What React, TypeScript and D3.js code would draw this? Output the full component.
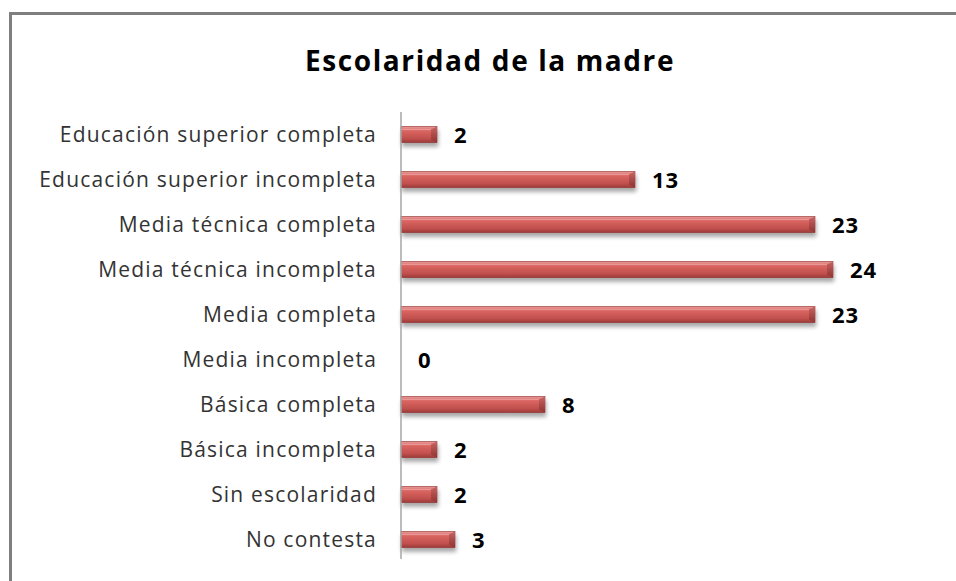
import React from "react";
import * as d3 from "d3";

const categories = [
  "Educación superior completa",
  "Educación superior incompleta",
  "Media técnica completa",
  "Media técnica incompleta",
  "Media completa",
  "Media incompleta",
  "Básica completa",
  "Básica incompleta",
  "Sin escolaridad",
  "No contesta",
];
const values = [2, 13, 23, 24, 23, 0, 8, 2, 2, 3];
const title = "Escolaridad de la madre";

const W = 956;
const H = 581;
const FONT = "'Open Sans', Lato, sans-serif";

export default function App() {
  const x = d3.scaleLinear().domain([0, 24]).range([401, 833]);
  const y = d3.scaleBand<string>().domain(categories).range([112, 562]).paddingInner(0.64).paddingOuter(0.32);
  const bh = y.bandwidth();
  return (
    <div style={{ position: "fixed", left: 0, top: 0 }}>
      <svg width={W} height={H} style={{ display: "block", background: "#fff" }}>
        <defs>
          <linearGradient id="barG" x1="0" y1="0" x2="0" y2="1">
            <stop offset="0" stopColor="#e89a98" />
            <stop offset="0.3" stopColor="#d9635f" />
            <stop offset="0.75" stopColor="#c0504d" />
            <stop offset="1" stopColor="#9c3a38" />
          </linearGradient>
          <linearGradient id="capG" x1="0" y1="0" x2="0" y2="1">
            <stop offset="0" stopColor="#c86462" />
            <stop offset="1" stopColor="#8f3432" />
          </linearGradient>
          <filter id="sh" x="-10%" y="-50%" width="130%" height="250%">
            <feGaussianBlur in="SourceAlpha" stdDeviation="2" />
            <feOffset dx="1" dy="4" result="b" />
            <feComponentTransfer>
              <feFuncA type="linear" slope="0.35" />
            </feComponentTransfer>
            <feMerge>
              <feMergeNode />
              <feMergeNode in="SourceGraphic" />
            </feMerge>
          </filter>
        </defs>
        <rect x={10.5} y={13.5} width={W} height={H} fill="#fff" stroke="#7f7f7f" strokeWidth={3} />
        <text x={490} y={71} textAnchor="middle" fontFamily={FONT} fontWeight={700} fontSize={28} letterSpacing={1.6} fill="#000">
          {title}
        </text>
        {categories.map((c, i) => {
          const yy = y(c)!;
          const x0 = x(0);
          const x1 = x(values[i]);
          const cy = yy + bh / 2;
          const bevel = Math.min(6, (x1 - x0) / 4);
          return (
            <g key={c}>
              {values[i] > 0 && (
                <g filter="url(#sh)">
                  <rect x={x0} y={yy} width={x1 - x0} height={bh} fill="url(#barG)" stroke="#8f3432" strokeWidth={0.6} />
                  <polygon
                    points={`${x1 - bevel},${yy + 3} ${x1},${yy} ${x1},${yy + bh} ${x1 - bevel},${yy + bh - 3}`}
                    fill="url(#capG)"
                  />
                  <line x1={x0} x2={x1 - bevel} y1={yy + 3} y2={yy + 3} stroke="#f1b3b1" strokeWidth={1} opacity={0.6} />
                </g>
              )}
              <text x={377} y={cy} dy="0.38em" textAnchor="end" fontFamily={FONT} fontSize={21} letterSpacing={1.2} fill="#333">
                {c}
              </text>
              <text x={x1 + 17} y={cy} dy="0.4em" fontFamily={FONT} fontWeight={700} fontSize={22} letterSpacing={0.8} fill="#000">
                {values[i]}
              </text>
            </g>
          );
        })}
        <line x1={x(0)} x2={x(0)} y1={112} y2={559} stroke="#a6a6a6" strokeWidth={1.5} />
      </svg>
    </div>
  );
}
